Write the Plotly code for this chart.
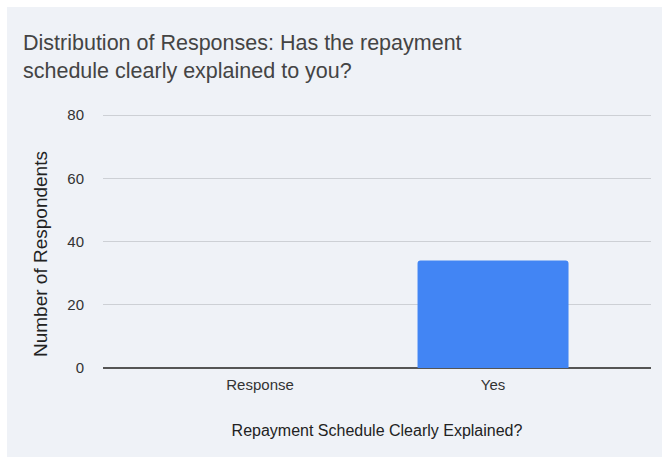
import plotly.graph_objects as go

categories = ["Response", "Yes"]
counts = [0, 34]
y_ticks = [0, 20, 40, 60, 80]

W, H = 662, 457
L, R, T, B = 103, 11, 112, 89
PW, PH = W - L - R, H - T - B
BG = "#eff2f7"


def px_x(x):
    return (x - L) / PW


def px_y(y):
    return (H - B - y) / PH


fig = go.Figure(
    go.Bar(
        x=categories,
        y=counts,
        marker=dict(color="#4285f4", cornerradius=3, line=dict(width=0)),
        width=0.648,
    )
)

fig.update_layout(
    width=W,
    height=H,
    margin=dict(l=L, r=R, t=T, b=B),
    paper_bgcolor="white",
    plot_bgcolor="rgba(0,0,0,0)",
    showlegend=False,
    title=dict(
        text="Distribution of Responses: Has the repayment<br>schedule clearly explained to you?",
        font=dict(family="Liberation Sans, Arial", size=21.5, color="#444444"),
        x=23 / W,
        xanchor="left",
        xref="container",
        y=1 - 50 / H,
        yanchor="top",
        yref="container",
    ),
    font=dict(family="Liberation Sans, Arial", color="#444444"),
    shapes=[
        dict(
            type="rect",
            xref="paper",
            yref="paper",
            x0=px_x(7),
            x1=px_x(W + 5),
            y0=px_y(H + 5),
            y1=px_y(7),
            fillcolor=BG,
            line=dict(width=0),
            layer="below",
        )
    ],
    annotations=[
        dict(
            text="Number of Respondents",
            textangle=-90,
            xref="paper",
            yref="paper",
            x=px_x(40),
            y=px_y(254),
            xanchor="center",
            yanchor="middle",
            showarrow=False,
            font=dict(family="Liberation Sans, Arial", size=19, color="#222222"),
        )
    ],
)

fig.update_xaxes(
    range=[-0.674, 1.678],
    showgrid=False,
    showline=False,
    ticks="",
    ticklabelstandoff=6,
    tickfont=dict(size=15, color="#333333"),
    title=dict(
        text="Repayment Schedule Clearly Explained?",
        font=dict(size=16, color="#222222"),
        standoff=32,
    ),
)

fig.update_yaxes(
    range=[0, 81],
    tickvals=y_ticks,
    showgrid=True,
    gridcolor="#cdd0d5",
    gridwidth=1,
    zeroline=True,
    zerolinecolor="#555555",
    zerolinewidth=1.5,
    showline=False,
    ticks="",
    ticklabelstandoff=18,
    tickfont=dict(size=15, color="#333333"),
)

fig.write_html(
    "out.html",
    config={"displayModeBar": False},
    post_script="document.body.style.margin='0';document.body.style.overflow='hidden';",
)
